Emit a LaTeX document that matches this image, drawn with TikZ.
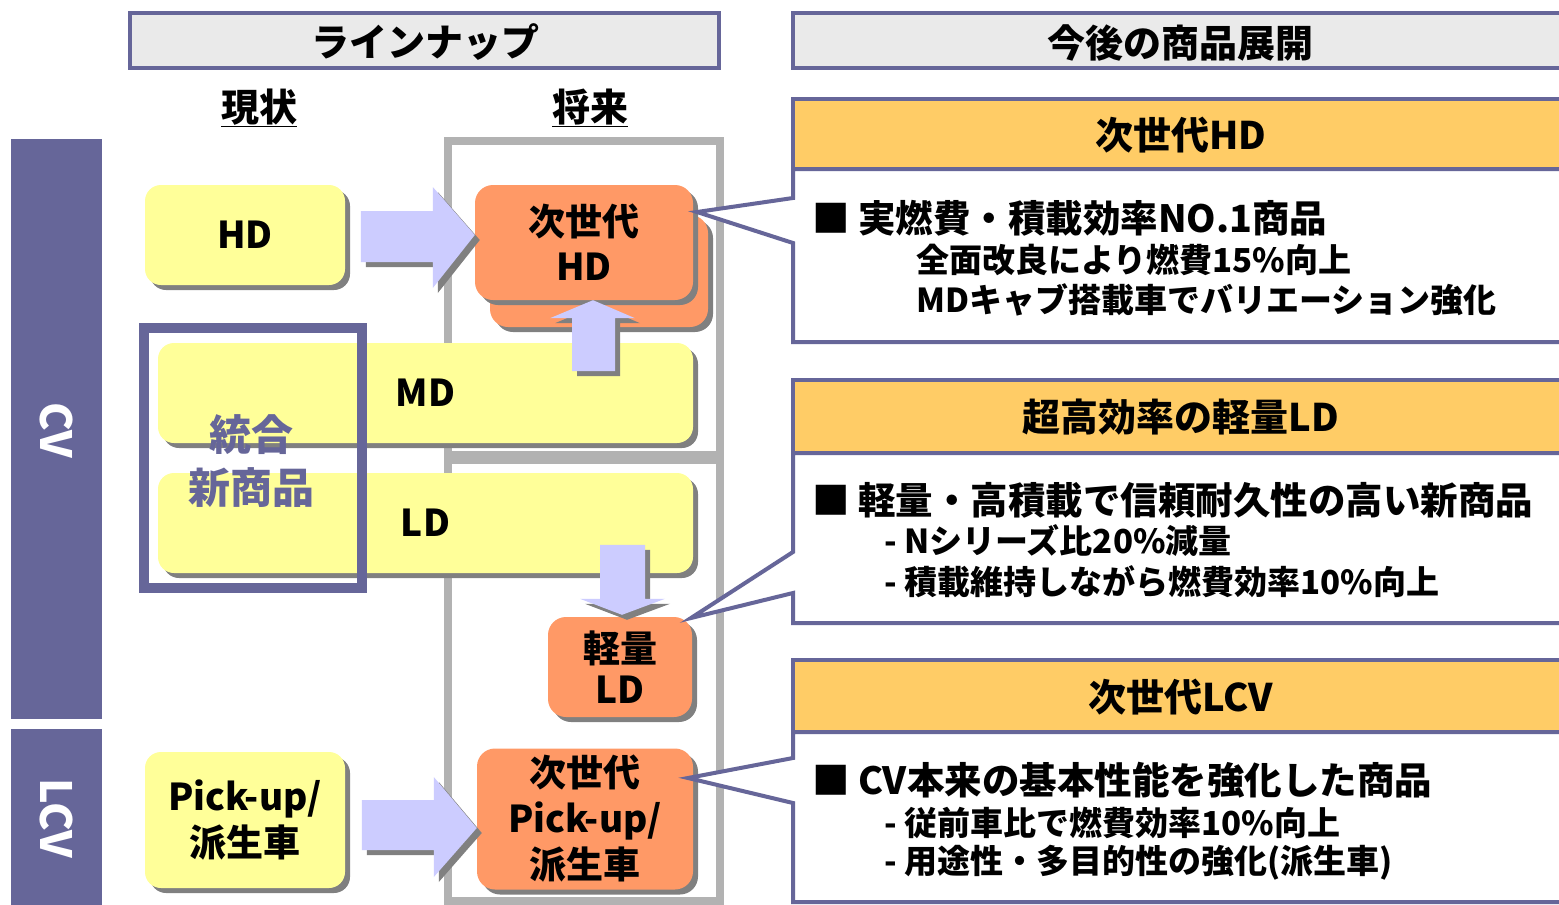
\documentclass[tikz,border=0pt]{standalone}
\usepackage{fontspec}
\setmainfont{Noto Sans CJK JP}
\usetikzlibrary{shadows,calc}
\definecolor{navy}{HTML}{666699}
\definecolor{hdrgray}{HTML}{EAEAEA}
\definecolor{boxyellow}{HTML}{FFFF99}
\definecolor{boxorange}{HTML}{FF9966}
\definecolor{headorange}{HTML}{FFCC66}
\definecolor{arrowc}{HTML}{CCCCFF}
\definecolor{shadowgray}{HTML}{808080}
\definecolor{framegray}{HTML}{B2B2B2}
\newcommand\fz[2]{\fontsize{#1pt}{#2pt}\selectfont\bfseries}
\tikzset{
  shad/.style={drop shadow={shadow xshift=5pt,shadow yshift=-5pt,fill=shadowgray,opacity=1}},
  ybox/.style={fill=boxyellow, rounded corners=16pt, shad, align=center, inner sep=0pt, font=\fz{37}{46}},
  obox/.style={fill=boxorange, rounded corners=18pt, shad, align=center, inner sep=0pt, font=\fz{37}{45}},
  barrow/.style={fill=arrowc, shad},
  hdrbox/.style={draw=navy, line width=4pt, fill=hdrgray},
  htext/.style={font=\fz{38}{42}, inner sep=0pt},
  sidetext/.style={font=\fz{43}{46}, text=white, rotate=-90, inner sep=0pt},
  gframe/.style={draw=framegray, line width=8pt},
  pline/.style={draw=navy, line width=4pt},
  ptitle/.style={font=\fz{38}{42}, inner sep=0pt},
  pmain/.style={font=\fz{37.5}{42}, anchor=west, inner sep=0pt},
  psub/.style={font=\fz{33}{37}, anchor=west, inner sep=0pt},
}
\begin{document}
\begin{tikzpicture}[x=1pt,y=-1pt]
\clip (0,0) rectangle (1559,905);
\fill[white] (0,0) rectangle (1559,905);

% column headers
\draw[hdrbox] (130,13) rectangle (719,68);
\node[htext] (h1) at (425,42) {ラインナップ};
\draw[hdrbox] (793,13) rectangle (1575,68);
\node[htext] (h2) at (1180,43) {今後の商品展開};
\node[htext] (cur) at (259,108) {\underline{現状}};
\node[htext] (fut) at (590,108) {\underline{将来}};

% side bars
\fill[navy] (11,139) rectangle (102,719);
\node[sidetext] (cv) at (56,430) {CV};
\fill[navy] (11,729) rectangle (102,910);
\node[sidetext] (lcv) at (56,818) {LCV};

% future column frame
\draw[gframe] (448,141) rectangle (720,455);
\draw[gframe] (448,460) rectangle (720,901);

% current lineup
\node[ybox, minimum width=200pt, minimum height=100pt] (hd) at (245,235) {HD};
\node[ybox, minimum width=535pt, minimum height=100pt] (md) at (425.5,393) {MD};
\node[ybox, minimum width=535pt, minimum height=100pt] (ld) at (425.5,523) {LD};
\node[ybox, minimum width=200pt, minimum height=136pt] (pu) at (245,820) {Pick-up/\\派生車};

% future lineup
\node[obox, minimum width=218pt, minimum height=112pt] (nhdb) at (599,271) {};
\node[obox, minimum width=218pt, minimum height=115pt] (nhd) at (584,242.5) {次世代\\HD};
\node[obox, minimum width=144pt, minimum height=100pt, font=\fz{37}{41}] (lld) at (620,667) {軽量\\LD};
\node[obox, minimum width=216pt, minimum height=141pt, font=\fz{37}{46}] (npu) at (585,819) {次世代\\Pick-up/\\派生車};

% block arrows
\path[barrow, shift={(nhd.west|-hd.east)}]
  (-114,-24) -- (-42,-24) -- (-42,-48) -- (0,0) -- (-42,53) -- (-42,27) -- (-114,27) -- cycle;
\path[barrow, shift={($(npu.west)+(0,9)$)}]
  (-115,-28) -- (-43,-28) -- (-43,-51) -- (0,0) -- (-43,49) -- (-43,22) -- (-115,22) -- cycle;
\path[barrow, shift={($(nhd.south)+(9,0)$)}]
  (0,0) -- (42,18) -- (22,18) -- (22,71) -- (-21,71) -- (-21,18) -- (-43,18) -- cycle;
\path[barrow, shift={($(lld.north)+(2,-2)$)}]
  (0,0) -- (43,-16) -- (23,-16) -- (23,-70) -- (-22,-70) -- (-22,-16) -- (-42,-16) -- cycle;

% integration frame
\draw[navy, line width=10pt] (144,328) rectangle (362,588);
\node[font=\fz{42}{53}, text=navy, align=center, inner sep=0pt] (tg) at (251,461) {統合\\新商品};

% panel 1
\coordinate (t1) at (697,212);
\draw[pline, fill=headorange] (793,99) rectangle (1575,169);
\draw[pline, fill=white] (793,169) -- (793,198) -- (t1) -- (793,243) -- (793,342) -- (1575,342) -- (1575,169) -- cycle;
\node[ptitle] (p1t) at (1181,135) {次世代HD};
\node[pmain] (p1a) at (812,218) {■ 実燃費・積載効率NO.1商品};
\node[psub] (p1b) at (916,260) {全面改良により燃費15\%向上};
\node[psub] (p1c) at (916,300) {MDキャブ搭載車でバリエーション強化};

% panel 2
\coordinate (t2) at (691,618);
\draw[pline, fill=headorange] (793,380) rectangle (1575,453);
\draw[pline, fill=white] (793,453) -- (793,552) -- (t2) -- (793,593) -- (793,623) -- (1575,623) -- (1575,453) -- cycle;
\node[ptitle] (p2t) at (1181,417) {超高効率の軽量LD};
\node[pmain] (p2a) at (812,500) {■ 軽量・高積載で信頼耐久性の高い新商品};
\node[psub] (p2b) at (884,541) {- Nシリーズ比20\%減量};
\node[psub] (p2c) at (884,582) {- 積載維持しながら燃費効率10\%向上};

% panel 3
\coordinate (t3) at (688,778);
\draw[pline, fill=headorange] (793,660) rectangle (1575,732);
\draw[pline, fill=white] (793,732) -- (793,758) -- (t3) -- (793,803) -- (793,902) -- (1575,902) -- (1575,732) -- cycle;
\node[ptitle] (p3t) at (1181,697) {次世代LCV};
\node[pmain] (p3a) at (812,780) {■ CV本来の基本性能を強化した商品};
\node[psub] (p3b) at (884,823) {- 従前車比で燃費効率10\%向上};
\node[psub] (p3c) at (884,863) {- 用途性・多目的性の強化(派生車)};
\end{tikzpicture}
\end{document}
